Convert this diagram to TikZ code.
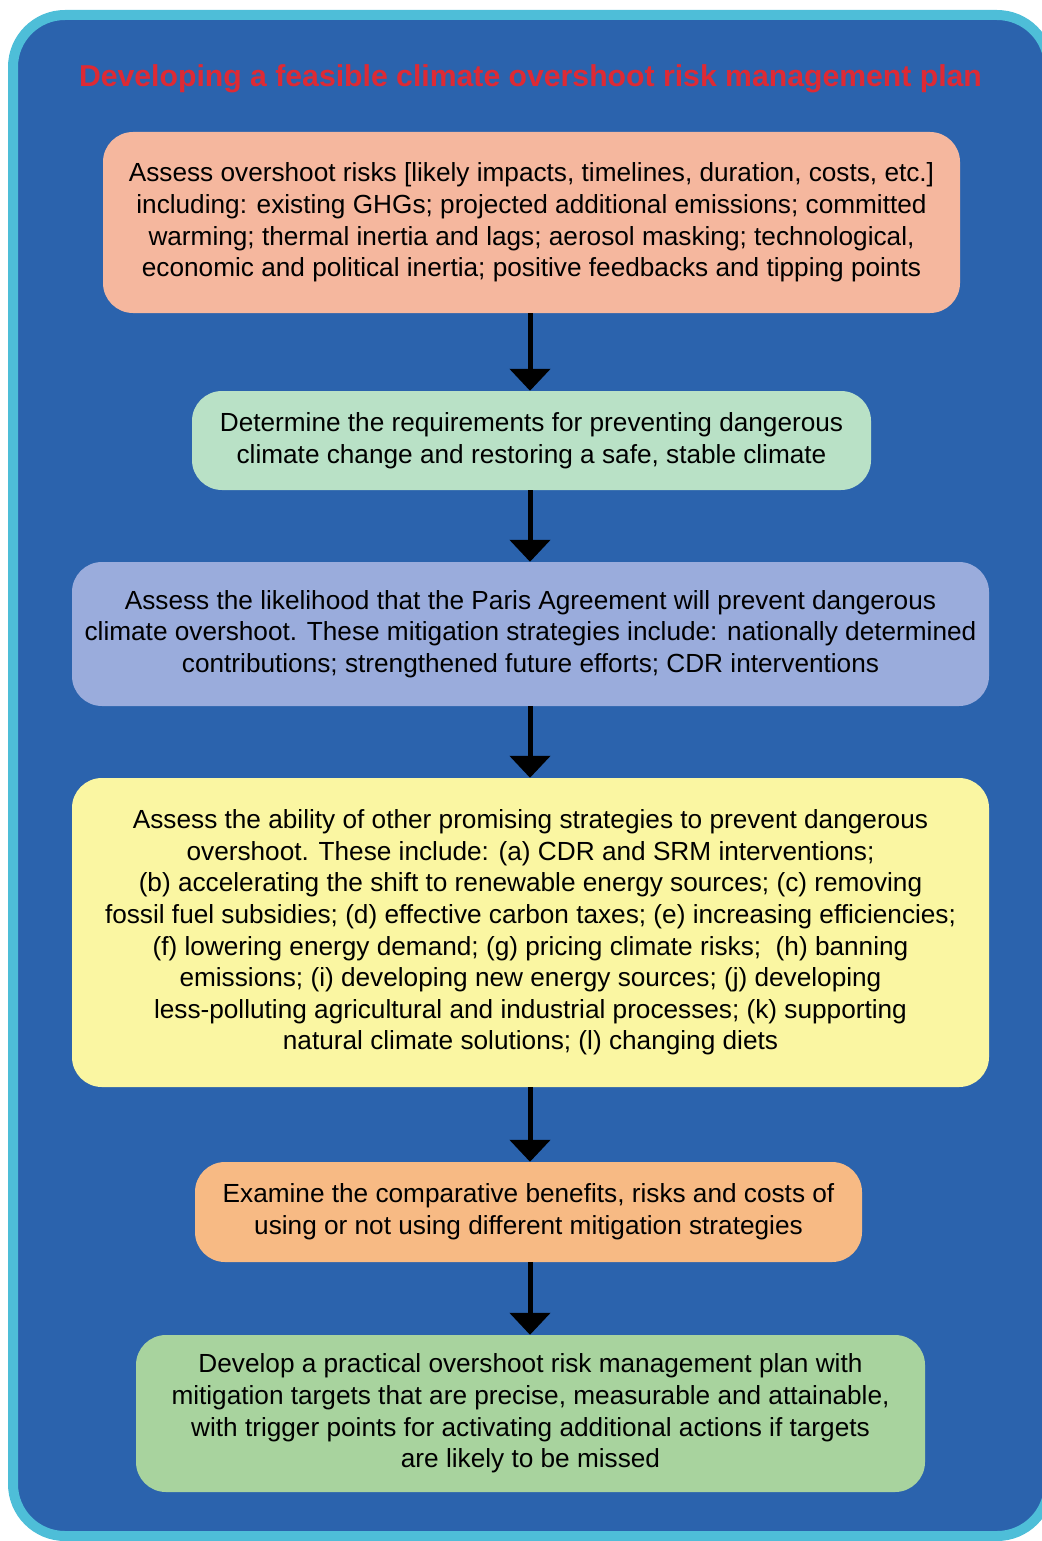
\documentclass[tikz,border=0pt]{standalone}
\usepackage{fontspec}
\setmainfont{Liberation Sans}
\usetikzlibrary{arrows.meta}

\definecolor{frameline}{RGB}{78,190,216}
\definecolor{framefill}{RGB}{43,99,173}
\definecolor{titlered}{RGB}{222,42,52}
\definecolor{salmon}{RGB}{245,183,158}
\definecolor{mint}{RGB}{185,225,198}
\definecolor{lavender}{RGB}{154,172,220}
\definecolor{paleyellow}{RGB}{250,246,162}
\definecolor{apricot}{RGB}{247,186,132}
\definecolor{leaf}{RGB}{168,211,158}

\begin{document}
\begin{tikzpicture}[x=1pt, y=-1pt,
    stepbox/.style={rounded corners=30pt, align=center, inner sep=0pt,
      font=\fontsize{26.2}{31.6}\selectfont, text=black},
    flow/.style={line width=5pt, -{Triangle[width=40pt,length=22pt]}}]
  \useasboundingbox (0,0) rectangle (1041,1541);
  % frame
  \draw[line width=10pt, draw=frameline, fill=framefill, rounded corners=52pt]
    (13,15) rectangle (1049,1536);
  \node[text=titlered, font=\fontsize{30.2}{32}\bfseries] (title) at (530.5,79)
    {Developing a feasible climate overshoot risk management plan};
  % steps
  \node[stepbox, fill=salmon, minimum width=857pt, minimum height=181pt] (risks) at (531.5,222.5)
    {Assess overshoot risks [likely impacts, timelines, duration, costs, etc.]\\
     including: existing GHGs; projected additional emissions; committed\\
     warming; thermal inertia and lags; aerosol masking; technological,\\
     economic and political inertia; positive feedbacks and tipping points};
  \node[stepbox, fill=mint, minimum width=679pt, minimum height=99pt] (needs) at (531.5,440.5)
    {Determine the requirements for preventing dangerous\\
     climate change and restoring a safe, stable climate};
  \node[stepbox, fill=lavender, minimum width=917pt, minimum height=144pt] (paris) at (530.5,634)
    {Assess the likelihood that the Paris Agreement will prevent dangerous\\
     climate overshoot. These mitigation strategies include: nationally determined\\
     contributions; strengthened future efforts; CDR interventions};
  \node[stepbox, fill=paleyellow, minimum width=917pt, minimum height=309pt] (others) at (530.5,932.5)
    {Assess the ability of other promising strategies to prevent dangerous\\
     overshoot. These include: (a) CDR and SRM interventions;\\
     (b) accelerating the shift to renewable energy sources; (c) removing\\
     fossil fuel subsidies; (d) effective carbon taxes; (e) increasing efficiencies;\\
     (f) lowering energy demand; (g) pricing climate risks;\ \ (h) banning\\
     emissions; (i) developing new energy sources; (j) developing\\
     less-polluting agricultural and industrial processes; (k) supporting\\
     natural climate solutions; (l) changing diets};
  \node[stepbox, fill=apricot, minimum width=667pt, minimum height=100pt] (compare) at (528.5,1212)
    {Examine the comparative benefits, risks and costs of\\
     using or not using different mitigation strategies};
  \node[stepbox, fill=leaf, minimum width=789pt, minimum height=157pt] (plan) at (530.5,1413.5)
    {Develop a practical overshoot risk management plan with\\
     mitigation targets that are precise, measurable and attainable,\\
     with trigger points for activating additional actions if targets\\
     are likely to be missed};
  % arrows
  \draw[flow] (risks.south -| 530,0) -- (needs.north -| 530,0);
  \draw[flow] (needs.south -| 530,0) -- (paris.north -| 530,0);
  \draw[flow] (paris.south -| 530,0) -- (others.north -| 530,0);
  \draw[flow] (others.south -| 530,0) -- (compare.north -| 530,0);
  \draw[flow] (compare.south -| 530,0) -- (plan.north -| 530,0);
\end{tikzpicture}
\end{document}
